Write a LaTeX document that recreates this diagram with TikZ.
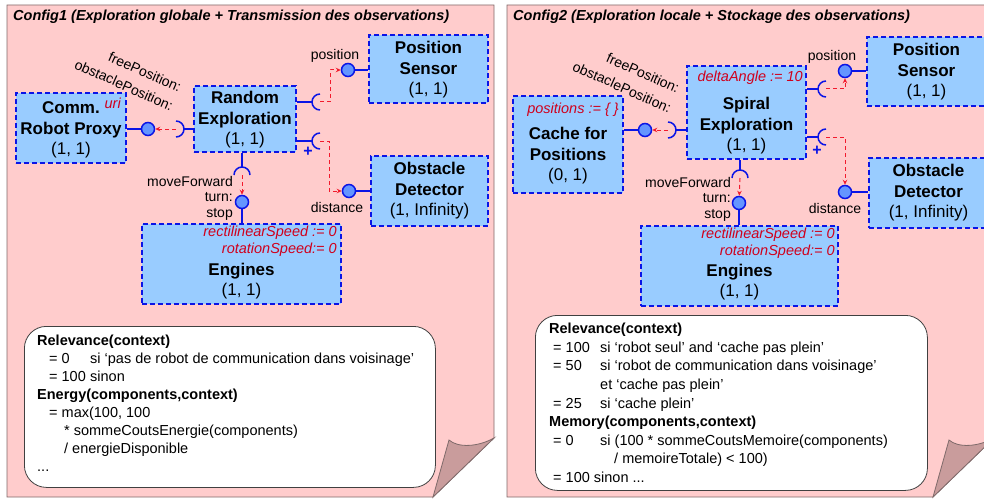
\documentclass[tikz,border=0pt]{standalone}
\usepackage{fontspec}
\setmainfont{Liberation Sans}
\usetikzlibrary{arrows.meta, positioning}

\definecolor{sheetpink}{HTML}{FFCCCC}
\definecolor{foldpink}{HTML}{C99C9C}
\definecolor{sheetline}{HTML}{7F6A6A}
\definecolor{compblue}{HTML}{99CCFF}
\definecolor{portblue}{HTML}{6495FF}
\definecolor{linkblue}{HTML}{0A14E6}
\definecolor{reqred}{HTML}{F21B2D}
\definecolor{attrred}{HTML}{D0001C}

\begin{document}
\begin{tikzpicture}[x=1pt, y=-1pt,
  sheet/.style={fill=sheetpink, draw=sheetline, line width=0.8pt},
  flap/.style={fill=foldpink, draw=sheetline, line width=0.8pt},
  comp/.style={draw=linkblue, fill=compblue, line width=1.6pt,
    dash pattern=on 5pt off 3pt, inner sep=0},
  compname/.style={font=\fontsize{17}{20.5}\selectfont, align=center, inner sep=0},
  attr/.style={font=\fontsize{14.5}{17}\selectfont\itshape, text=attrred,
    align=right, inner sep=0},
  lbl/.style={font=\fontsize{14}{15.5}\selectfont, inner sep=0},
  port/.style={circle, draw=linkblue, fill=portblue, line width=1.5pt,
    minimum size=13pt, inner sep=0},
  prov/.style={draw=linkblue, line width=1.5pt},
  req/.style={draw=reqred, line width=1pt, dash pattern=on 4pt off 3pt,
    -{Stealth[length=5pt,width=4.5pt]}},
  plus/.style={font=\fontsize{16}{16}\selectfont\bfseries, text=linkblue, inner sep=0},
  note/.style={draw=black!75, fill=white, line width=0.8pt, rounded corners=22pt,
    inner sep=0},
  notetext/.style={align=left, inner sep=0, anchor=north west},
  paneltitle/.style={font=\fontsize{14.5}{17}\selectfont\bfseries\itshape, inner sep=0}]

  \clip (0,0) rectangle (984,500);

  % ---------- feuilles ----------
  \foreach \dx in {0,500}{
    \begin{scope}[xshift=\dx]
      \draw[sheet] (7,5) -- (494,5) -- (494,438) -- (433,497) -- (7,497) -- cycle;
      \draw[flap] (433,497) -- (449,440) .. controls (458,448) and (478,447) .. (494,438) -- cycle;
    \end{scope}
  }

  % ---------- Config1 ----------
  \node[paneltitle, anchor=base west] (title1) at (13,21)
       {Config1 (Exploration globale + Transmission des observations)};

  \node[comp, minimum width=110, minimum height=70] (proxy) at (71,128) {};
  \node[compname] (proxy-t) at (71,130) {\textbf{Comm.}\\\textbf{Robot Proxy}\\(1, 1)};
  \node[attr, anchor=east] (proxy-a) at (121,103) {uri};

  \node[comp, minimum width=102, minimum height=66] (randexp) at (245,119) {};
  \node[compname] (randexp-t) at (245,120) {\textbf{Random}\\\textbf{Exploration}\\(1, 1)};

  \node[comp, minimum width=119, minimum height=68] (possens) at (428.5,69) {};
  \node[compname] (possens-t) at (428.5,70) {\textbf{Position}\\\textbf{Sensor}\\(1, 1)};

  \node[comp, minimum width=117, minimum height=70] (obsdet) at (429.5,191) {};
  \node[compname] (obsdet-t) at (429.5,191) {\textbf{Obstacle}\\\textbf{Detector}\\(1, Infinity)};

  \node[comp, minimum width=199, minimum height=80] (engines) at (241.5,264) {};
  \node[compname] (engines-t) at (241.5,281) {\textbf{Engines}\\(1, 1)};
  \node[attr, anchor=east] (engines-a) at (337,241.5) {rectilinearSpeed := 0\\rotationSpeed:= 0};

  % ports et prises
  \node[port] (c1a) at (148,129) {};
  \node[port] (c1b) at (348,70) {};
  \node[port] (c1c) at (349,191) {};
  \node[port] (c1d) at (242,202) {};
  \coordinate (s1a) at (176,129);
  \coordinate (s1b) at (320,102);
  \coordinate (s1c) at (320,141);
  \coordinate (s1d) at (242,175);

  \draw[prov] (c1a) -- (proxy.east |- c1a);
  \draw[prov] (c1b) -- (possens.west |- c1b);
  \draw[prov] (c1c) -- (obsdet.west |- c1c);
  \draw[prov] (c1d) -- (c1d |- engines.north);

  \draw[prov] (s1a) ++(8,0) -- (randexp.west |- s1a);
  \draw[prov] (s1a) ++(0,-8) arc[start angle=-90, end angle=90, radius=8];
  \draw[prov] (randexp.east |- s1b) -- ++(16,0);
  \draw[prov] (s1b) ++(0,-8) arc[start angle=-90, end angle=-270, radius=8];
  \draw[prov] (randexp.east |- s1c) -- ++(16,0);
  \draw[prov] (s1c) ++(0,-8) arc[start angle=-90, end angle=-270, radius=8];
  \draw[prov] (randexp.south -| s1d) -- ++(0,15);
  \draw[prov] (s1d) ++(-8,0) arc[start angle=180, end angle=360, radius=8];

  \draw[req] (s1a) -- (c1a);
  \draw[req] (s1b) -- ++(10,0) |- (c1b);
  \draw[req] (s1c) -- ++(9,0) |- (c1c);
  \draw[req] (s1d) -- (c1d);

  \node[plus] (plus1) at (308,152) {+};
  \node[lbl] (pos1) at (335,56) {position};
  \node[lbl] (dist1) at (337,207) {distance};
  \node[lbl, align=right, anchor=east] (ops1) at (233,198) {moveForward\\turn:\\stop};
  \node[lbl, rotate=-24] (free1) at (145,72) {freePosition:};
  \node[lbl, rotate=-24] (obst1) at (124,85) {obstaclePosition:};

  \node[note, minimum width=411, minimum height=161, anchor=north west] (note1) at (24,326) {};
  \node[notetext, font=\fontsize{14.5}{18}\selectfont] (note1-t) at (37,335) {%
    \textbf{Relevance(context)}\\
    \hspace*{12pt}\makebox[41pt][l]{= 0}si ‘pas de robot de communication dans voisinage’\\
    \hspace*{12pt}\makebox[41pt][l]{= 100}sinon\\
    \textbf{Energy(components,context)}\\
    \hspace*{12pt}= max(100, 100\\
    \hspace*{27pt}* sommeCoutsEnergie(components)\\
    \hspace*{27pt}/ energieDisponible\\
    ...};

  % ---------- Config2 ----------
  \node[paneltitle, anchor=base west] (title2) at (513,21)
       {Config2 (Exploration locale + Stockage des observations)};

  \node[comp, minimum width=110, minimum height=97] (cache) at (568,144.5) {};
  \node[compname] (cache-t) at (568,156) {\textbf{Cache for}\\\textbf{Positions}\\(0, 1)};
  \node[attr, anchor=east] (cache-a) at (619,110) {positions := \{ \}};

  \node[comp, minimum width=119, minimum height=93] (spiral) at (746.5,112.5) {};
  \node[compname] (spiral-t) at (746.5,126) {\textbf{Spiral}\\\textbf{Exploration}\\(1, 1)};
  \node[attr, anchor=east] (spiral-a) at (803,78) {deltaAngle := 10};

  \node[comp, minimum width=119, minimum height=69] (possens2) at (926.5,71.5) {};
  \node[compname] (possens2-t) at (926.5,72) {\textbf{Position}\\\textbf{Sensor}\\(1, 1)};

  \node[comp, minimum width=119, minimum height=70] (obsdet2) at (928.5,193) {};
  \node[compname] (obsdet2-t) at (928.5,193) {\textbf{Obstacle}\\\textbf{Detector}\\(1, Infinity)};

  \node[comp, minimum width=197, minimum height=80] (engines2) at (739.5,266) {};
  \node[compname] (engines2-t) at (739.5,282) {\textbf{Engines}\\(1, 1)};
  \node[attr, anchor=east] (engines2-a) at (835,243) {rectilinearSpeed := 0\\rotationSpeed:= 0};

  % ports et prises
  \node[port] (c2a) at (645,130) {};
  \node[port] (c2b) at (845,71) {};
  \node[port] (c2c) at (845,192) {};
  \node[port] (c2d) at (739,203) {};
  \coordinate (s2a) at (668,130);
  \coordinate (s2b) at (826,89);
  \coordinate (s2c) at (826,137);
  \coordinate (s2d) at (740,178);

  \draw[prov] (c2a) -- (cache.east |- c2a);
  \draw[prov] (c2b) -- (possens2.west |- c2b);
  \draw[prov] (c2c) -- (obsdet2.west |- c2c);
  \draw[prov] (c2d) -- (c2d |- engines2.north);

  \draw[prov] (s2a) ++(8,0) -- (spiral.west |- s2a);
  \draw[prov] (s2a) ++(0,-8) arc[start angle=-90, end angle=90, radius=8];
  \draw[prov] (spiral.east |- s2b) -- ++(12,0);
  \draw[prov] (s2b) ++(0,-8) arc[start angle=-90, end angle=-270, radius=8];
  \draw[prov] (spiral.east |- s2c) -- ++(12,0);
  \draw[prov] (s2c) ++(0,-8) arc[start angle=-90, end angle=-270, radius=8];
  \draw[prov] (spiral.south -| s2d) -- ++(0,11);
  \draw[prov] (s2d) ++(-8,0) arc[start angle=180, end angle=360, radius=8];

  \draw[req] (s2a) -- (c2a);
  \draw[req] (s2b) -| (c2b);
  \draw[req] (s2c) -| (c2c);
  \draw[req] (s2d) -- (c2d);

  \node[plus] (plus2) at (817,151) {+};
  \node[lbl] (pos2) at (832,57) {position};
  \node[lbl] (dist2) at (835,208) {distance};
  \node[lbl, align=right, anchor=east] (ops2) at (731,199) {moveForward\\turn:\\stop};
  \node[lbl, rotate=-24] (free2) at (643,73) {freePosition:};
  \node[lbl, rotate=-24] (obst2) at (622,87) {obstaclePosition:};

  \node[note, minimum width=392, minimum height=175, anchor=north west] (note2) at (535,315) {};
  \node[notetext, font=\fontsize{14.5}{18.6}\selectfont] (note2-t) at (549,323) {%
    \textbf{Relevance(context)}\\
    \hspace*{4pt}\makebox[47pt][l]{= 100}si ‘robot seul’ and ‘cache pas plein’\\
    \hspace*{4pt}\makebox[47pt][l]{= 50}si ‘robot de communication dans voisinage’\\
    \hspace*{51pt}et ‘cache pas plein’\\
    \hspace*{4pt}\makebox[47pt][l]{= 25}si ‘cache plein’\\
    \textbf{Memory(components,context)}\\
    \hspace*{4pt}\makebox[47pt][l]{= 0}si (100 * sommeCoutsMemoire(components)\\
    \hspace*{65pt}/ memoireTotale) < 100)\\
    \hspace*{4pt}= 100 sinon ...};
\end{tikzpicture}
\end{document}
